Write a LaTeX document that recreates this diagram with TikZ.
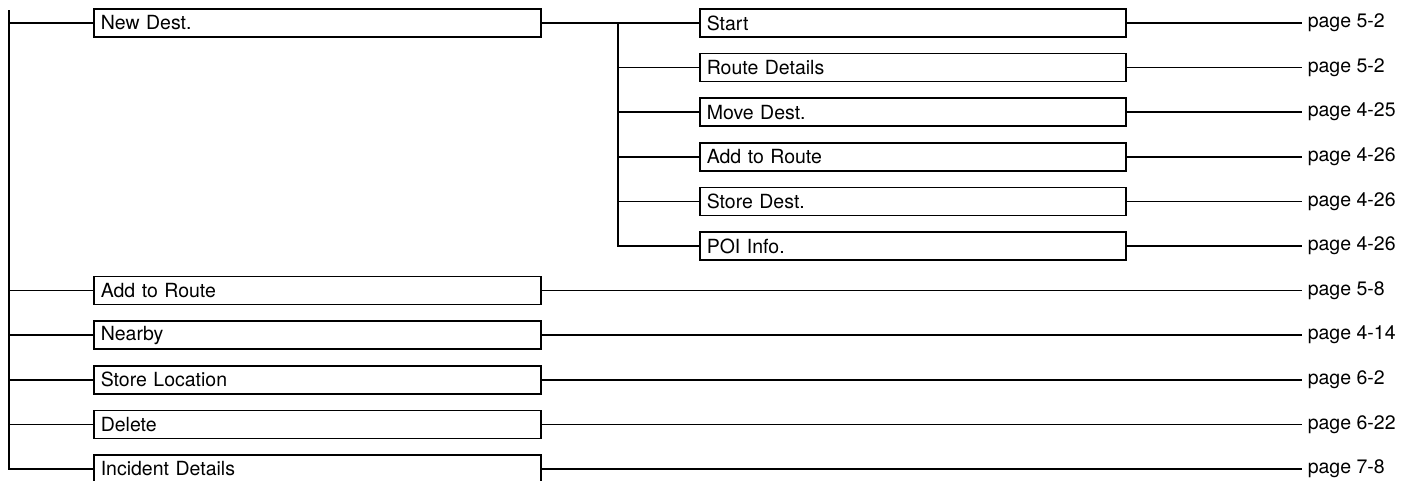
\documentclass[tikz,border=0pt]{standalone}
\usepackage{fontspec}
\setmainfont{TeX Gyre Heros}
\begin{document}
\begin{tikzpicture}[x=1pt,y=1pt,line width=1.6pt,
  menubox/.style={draw,anchor=west,minimum height=28pt,inner xsep=7pt,inner ysep=0pt,text width=433pt,align=left,font=\fontsize{19.5}{22}\selectfont},
  subbox/.style={menubox,text width=412pt},
  pagelbl/.style={anchor=west,inner xsep=5pt,inner ysep=0pt,font=\fontsize{19.5}{22}\selectfont}]
\useasboundingbox (0,0) rectangle (1403,-480);
% first-level boxes
\node[menubox] (b0) at (93,-23) {New Dest.};
\node[menubox] (b6) at (93,-290.6) {Add to Route};
\node[menubox] (b7) at (93,-335.2) {Nearby};
\node[menubox] (b8) at (93,-379.8) {Store Location};
\node[menubox] (b9) at (93,-424.4) {Delete};
\node[menubox] (b10) at (93,-469) {Incident Details};
% second-level boxes
\node[subbox] (c0) at (699,-23) {Start};
\node[subbox] (c1) at (699,-67.6) {Route Details};
\node[subbox] (c2) at (699,-112.2) {Move Dest.};
\node[subbox] (c3) at (699,-156.8) {Add to Route};
\node[subbox] (c4) at (699,-201.4) {Store Dest.};
\node[subbox] (c5) at (699,-246) {POI Info.};
% page labels
\node[pagelbl] (p0) at (1302,-23) {page 5-2};
\node[pagelbl] (p1) at (1302,-67.6) {page 5-2};
\node[pagelbl] (p2) at (1302,-112.2) {page 4-25};
\node[pagelbl] (p3) at (1302,-156.8) {page 4-26};
\node[pagelbl] (p4) at (1302,-201.4) {page 4-26};
\node[pagelbl] (p5) at (1302,-246) {page 4-26};
\node[pagelbl] (p6) at (1302,-290.6) {page 5-8};
\node[pagelbl] (p7) at (1302,-335.2) {page 4-14};
\node[pagelbl] (p8) at (1302,-379.8) {page 6-2};
\node[pagelbl] (p9) at (1302,-424.4) {page 6-22};
\node[pagelbl] (p10) at (1302,-469) {page 7-8};
% trunk
\coordinate (t0) at (9,-10);
\draw (t0) |- (b10.west);
\foreach \i in {0,6,7,8,9} \draw (b\i.west -| t0) -- (b\i.west);
% second-level trunk
\coordinate (s0) at (618,-23);
\draw (b0.east) -- (s0) |- (c5.west);
\foreach \i in {0,1,2,3,4} \draw (c\i.west -| s0) -- (c\i.west);
% leaders
\foreach \i in {0,...,5} \draw (c\i.east) -- (p\i.west);
\foreach \i in {6,...,10} \draw (b\i.east) -- (p\i.west);
\end{tikzpicture}
\end{document}
